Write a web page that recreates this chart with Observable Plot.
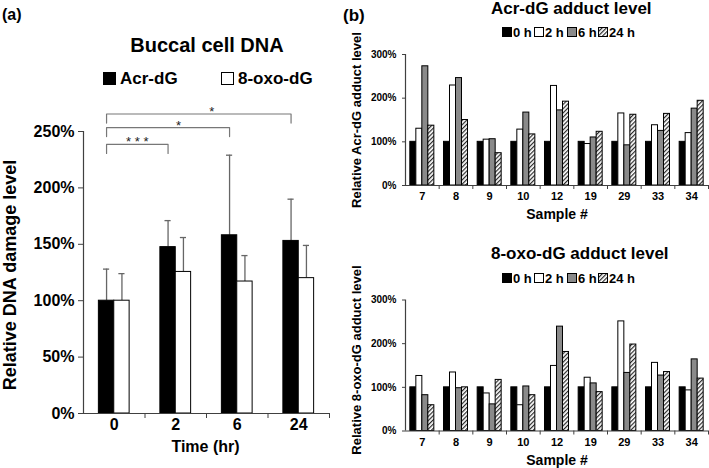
<!DOCTYPE html>
<html>
<head>
<meta charset="utf-8">
<script src="https://cdn.jsdelivr.net/npm/d3@7"></script>
<script src="https://cdn.jsdelivr.net/npm/@observablehq/plot@0.6"></script>
<style>
  html, body { margin: 0; padding: 0; background: #fff; }
  #root { position: relative; width: 709px; height: 468px; overflow: hidden; background: #fff;
          font-family: "Liberation Sans", Arial, Helvetica, sans-serif; font-weight: bold; color: #000; }
  .abs { position: absolute; white-space: nowrap; line-height: 1; }
  .plotbox { position: absolute; }
  .plotbox svg { overflow: visible; }
</style>
</head>
<body>
<svg width="0" height="0" style="position:absolute">
  <defs>
    <pattern id="hatch" patternUnits="userSpaceOnUse" width="3" height="3" patternTransform="rotate(45)">
      <rect width="3" height="3" fill="#ffffff"></rect>
      <line x1="0.6" y1="0" x2="0.6" y2="3" stroke="#2a2a2a" stroke-width="1.2"></line>
    </pattern>
  </defs>
</svg>
<div id="root"></div>
<script>
// ---------------- Panel (a) data ----------------
const times = ["0", "2", "6", "24"];
const acrMean = [100, 147.5, 158, 153];
const acrUpper = [128, 171, 229, 190];
const oxoMean = [100, 125.5, 117, 120];
const oxoUpper = [124, 156, 140, 149];
const aSeriesNames = ["Acr-dG", "8-oxo-dG"];
const aYTicks = [0, 50, 100, 150, 200, 250];

// significance brackets (from group, to group, level in %, label)
const sigFrom = ["0", "0", "0"];
const sigTo = ["2", "6", "24"];
const sigLevel = [238.5, 253.5, 265.5];
const sigLabel = ["***", "*", "*"];

// ---------------- Panel (b) data ----------------
const samples = ["7", "8", "9", "10", "12", "19", "29", "33", "34"];
const hours = ["0 h", "2 h", "6 h", "24 h"];
const bYTicks = [0, 100, 200, 300];

const acrH0  = [100, 100, 100, 100, 100, 100, 100, 100, 100];
const acrH2  = [130, 229, 105, 128, 228, 95, 165, 138, 120];
const acrH6  = [273, 246, 106, 167, 172, 110, 92, 125, 176];
const acrH24 = [137, 150, 74, 117, 192, 123, 162, 164, 194];

const oxoH0  = [100, 100, 100, 100, 100, 100, 100, 100, 100];
const oxoH2  = [126, 134, 86, 59, 149, 122, 251, 156, 93];
const oxoH6  = [82, 98, 61, 102, 239, 109, 133, 127, 164];
const oxoH24 = [59, 100, 117, 82, 181, 89, 198, 135, 120];

// ---------------- styling / layout ----------------
const FONT = '"Liberation Sans", Arial, Helvetica, sans-serif';
const AXIS = "#404040";
const ERR = "#666666";
const aFills = ["#000000", "#ffffff"];
const bFills = ["#000000", "#ffffff", "#8a8a8a", "url(#hatch)"];
const starFrac = [0.5, 0.585, 0.57];   // label position along each bracket
const root = document.getElementById("root");

function place(el, left, top) {
  const box = document.createElement("div");
  box.className = "plotbox";
  box.style.left = left + "px";
  box.style.top = top + "px";
  box.appendChild(el);
  root.appendChild(box);
}
function txt(s, css) {
  const d = document.createElement("div");
  d.className = "abs";
  d.textContent = s;
  Object.assign(d.style, css);
  root.appendChild(d);
  return d;
}
function centered(s, cx, cy, size, extra = {}) {
  return txt(s, Object.assign({left: cx + "px", top: cy + "px", fontSize: size + "px",
    transform: "translate(-50%,-50%)"}, extra));
}
function rotated(s, cx, cy, size) {
  return txt(s, {left: cx + "px", top: cy + "px", fontSize: size + "px",
    transform: "translate(-50%,-50%) rotate(-90deg)"});
}

// ---------------- Panel (a) ----------------
const half = 0.25; // width of one bar in category units
const aRows = [];
[acrMean, oxoMean].forEach((m, k) => {
  const up = k === 0 ? acrUpper : oxoUpper;
  times.forEach((t, i) => aRows.push({i, k, mean: m[i], upper: up[i]}));
});
const barX1 = d => d.i - half + half * d.k;
const barX2 = d => d.i + half * d.k;
const barC = d => d.i - half / 2 + half * d.k;

const idx = t => times.indexOf(t);
const drop = 8;
const brRows = [];
const starRows = [];
sigFrom.forEach((f, j) => {
  const xa = idx(f) - half / 2, xb = idx(sigTo[j]) - half / 2, L = sigLevel[j];
  brRows.push({g: j, x: xa, y: L - drop}, {g: j, x: xa, y: L}, {g: j, x: xb, y: L}, {g: j, x: xb, y: L - drop});
  starRows.push({x: xa + (xb - xa) * starFrac[j], y: L, label: sigLabel[j].split("").join(" ")});
});

const plotA = Plot.plot({
  width: 340, height: 468,
  marginLeft: 83, marginRight: 11, marginTop: 131, marginBottom: 55,
  x: {type: "linear", domain: [-0.5, times.length - 0.5]},
  y: {domain: [0, 250]},
  style: {fontFamily: FONT, fontWeight: "bold", color: "#000", background: "transparent"},
  marks: [
    Plot.ruleX(aRows, {x: barC, y1: "mean", y2: "upper", stroke: ERR, strokeWidth: 1.3}),
    Plot.ruleY(aRows, {y: "upper", x1: d => barC(d) - 0.05, x2: d => barC(d) + 0.05, stroke: ERR, strokeWidth: 1.3}),
    ...aFills.map((f, k) => Plot.rectY(aRows.filter(d => d.k === k),
      {x1: barX1, x2: barX2, y1: 0, y2: "mean", fill: f, stroke: "#000", strokeWidth: 1})),
    Plot.line(brRows, {x: "x", y: "y", z: "g", stroke: "#777", strokeWidth: 1.2}),
    Plot.text(starRows, {x: "x", y: "y", text: "label", fontSize: 13, fontWeight: "normal",
      lineAnchor: "bottom", dy: 2, fill: "#222"}),
    Plot.ruleY([0], {stroke: AXIS, strokeWidth: 1.2}),
    Plot.ruleX([-0.5], {y1: 0, y2: 250, stroke: AXIS, strokeWidth: 1.2}),
    Plot.axisY({ticks: aYTicks, tickFormat: d => d + "%", tickSize: 5, tickPadding: 4,
      fontSize: 16, label: null, stroke: AXIS, fill: "#000"}),
    Plot.axisX({ticks: times.map((t, i) => i), tickFormat: d => times[d], tickSize: 0, tickPadding: 5,
      fontSize: 16, label: null, fill: "#000"}),
    Plot.axisX({ticks: times.map((t, i) => i + 0.5), tickFormat: () => "", tickSize: 5,
      label: null, stroke: AXIS})
  ]
});
place(plotA, 0, 0);

// ---------------- Panel (b) ----------------
const groupW = 0.713;          // fraction of a category occupied by the 4 bars
const bw = groupW / hours.length;
function makeB(seriesList, height, mTop, mBottom) {
  const rows = [];
  seriesList.forEach((vals, j) => samples.forEach((s, i) => rows.push({i, j, v: vals[i]})));
  const x1 = d => d.i - groupW / 2 + bw * d.j;
  const x2 = d => d.i - groupW / 2 + bw * (d.j + 1);
  return Plot.plot({
    width: 369, height,
    marginLeft: 65, marginRight: 1, marginTop: mTop, marginBottom: mBottom,
    x: {type: "linear", domain: [-0.5, samples.length - 0.5]},
    y: {domain: [0, 300]},
    style: {fontFamily: FONT, fontWeight: "bold", color: "#000", background: "transparent"},
    marks: [
      ...bFills.map((f, j) => Plot.rectY(rows.filter(d => d.j === j),
        {x1, x2, y1: 0, y2: "v", fill: f, stroke: "#000", strokeWidth: 1})),
      Plot.ruleY([0], {stroke: AXIS, strokeWidth: 1.2}),
      Plot.ruleX([-0.5], {y1: 0, y2: 300, stroke: AXIS, strokeWidth: 1.2}),
      Plot.axisY({ticks: bYTicks, tickFormat: d => d + "%", tickSize: 3, tickPadding: 6,
        fontSize: 10, label: null, stroke: AXIS, fill: "#000"}),
      Plot.axisX({ticks: samples.map((s, i) => i), tickFormat: d => samples[d], tickSize: 0, tickPadding: 7,
        fontSize: 11, label: null, fill: "#000"}),
      Plot.axisX({ticks: samples.map((s, i) => i + 0.5), tickFormat: () => "", tickSize: 4,
        label: null, stroke: AXIS})
    ]
  });
}
place(makeB([acrH0, acrH2, acrH6, acrH24], 230, 54, 45), 340, 0);
place(makeB([oxoH0, oxoH2, oxoH6, oxoH24], 223, 54.5, 37.5), 340, 245);

// ---------------- Text / legends ----------------
txt("(a)", {left: "2px", top: "7px", fontSize: "16px"});
txt("(b)", {left: "343px", top: "7px", fontSize: "17px"});

centered("Buccal cell DNA", 207, 45, 20);
// legend (a)
const aLegX = [103, 221];
aSeriesNames.forEach((name, k) => {
  const sw = document.createElement("div");
  sw.className = "abs";
  Object.assign(sw.style, {left: aLegX[k] + "px", top: "72px", width: "13px", height: "13px",
    boxSizing: "border-box", background: aFills[k], border: "1px solid #000"});
  root.appendChild(sw);
  txt(name, {left: (aLegX[k] + 17) + "px", top: "70px", fontSize: "17px"});
});
rotated("Relative DNA damage level", 10, 275, 18);
centered("Time (hr)", 205.5, 447, 16);

// Panel (b) titles, legends, axis titles
function legendB(cy) {
  const xs = [502, 534, 567, 598];
  hours.forEach((h, j) => {
    const sw = document.createElementNS("http://www.w3.org/2000/svg", "svg");
    sw.setAttribute("width", 10); sw.setAttribute("height", 10);
    sw.style.position = "absolute";
    sw.style.left = xs[j] + "px";
    sw.style.top = (cy - 5) + "px";
    sw.innerHTML = `<rect x="0.5" y="0.5" width="9" height="9" fill="${bFills[j]}" stroke="#000" stroke-width="1"></rect>`;
    root.appendChild(sw);
    txt(h, {left: (xs[j] + 11) + "px", top: (cy - 6.5) + "px", fontSize: "13px"});
  });
}
txt("Acr-dG adduct level", {left: "491px", top: "0px", fontSize: "17px"});
legendB(32);
rotated("Relative Acr-dG adduct level", 356, 120, 13);
centered("Sample #", 557, 214, 14);

txt("8-oxo-dG adduct level", {left: "491px", top: "245px", fontSize: "17px"});
legendB(278);
rotated("Relative 8-oxo-dG adduct level", 356, 360, 13);
centered("Sample #", 557, 460, 14);
</script>
</body>
</html>
